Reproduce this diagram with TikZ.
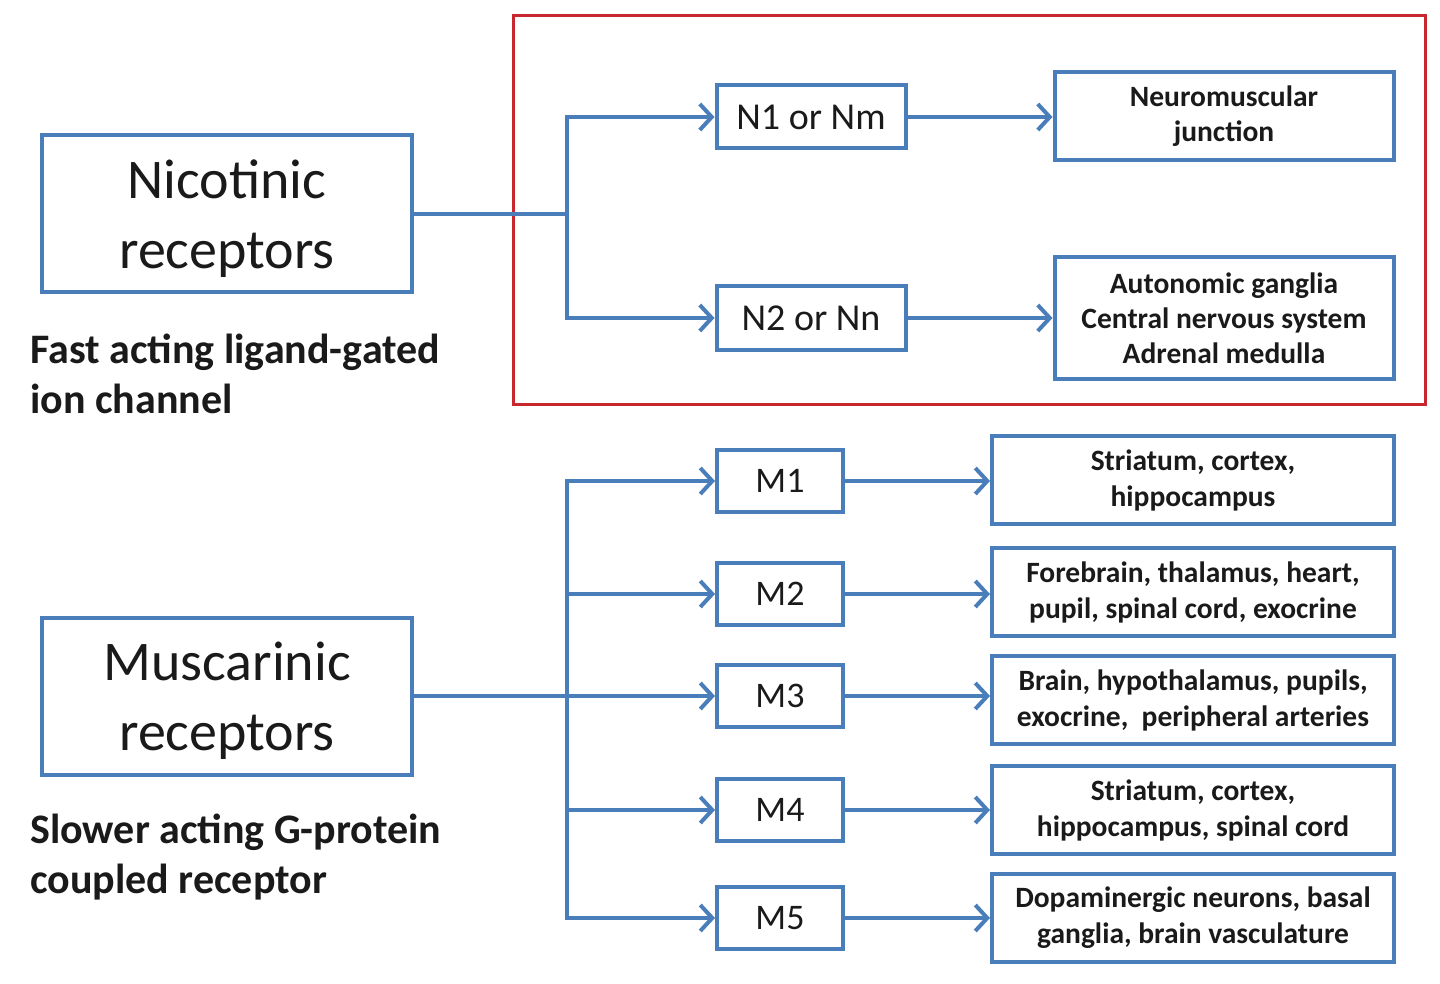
\documentclass[tikz,border=0pt]{standalone}
\usepackage{fontspec}
\setmainfont{Carlito}
\usetikzlibrary{arrows.meta,calc}
\definecolor{obox}{HTML}{4A7EBB}
\definecolor{rframe}{HTML}{C8282D}
\definecolor{ink}{HTML}{1A1A1A}
\begin{document}
\begin{tikzpicture}[x=1pt,y=-1pt,
  box/.style={draw=obox,line width=4pt,inner sep=0pt,align=center,text=ink},
  bigbox/.style={box,minimum width=370,minimum height=157,font=\fontsize{56}{70}\selectfont},
  nbox/.style={box,minimum width=189,minimum height=63,font=\fontsize{38}{40}\selectfont},
  mbox/.style={box,minimum width=126,minimum height=62,font=\fontsize{36}{40}\selectfont},
  sitebox/.style={box,minimum width=339,font=\bfseries\fontsize{29.5}{35}\selectfont},
  mite/.style={box,minimum width=402,minimum height=88,font=\bfseries\fontsize{29.5}{36}\selectfont},
  conn/.style={draw=obox,line width=4pt},
  arr/.style={conn,-{Straight Barb[length=12pt,width=26pt]}},
  lab/.style={font=\bfseries\fontsize{42}{50}\selectfont,align=left,anchor=west,inner sep=0pt,text=ink}
]
\useasboundingbox (0,0) rectangle (1440,984);

% red frame
\node[draw=rframe,line width=3pt,minimum width=912,minimum height=388,inner sep=0pt] (frame) at (969,210) {};

% main receptor boxes
\node[bigbox] (nic) at (227,214) {\strut Nicotinic\\receptors};
\node[bigbox] (mus) at (227,696) {\strut Muscarinic\\receptors};

\node[lab] (niclab) at (30,374) {Fast acting ligand-gated\\ion channel};
\node[lab] (muslab) at (30,857) {Slower acting G-protein\\coupled receptor};

% nicotinic subtypes
\node[nbox] (n1) at (811,117) {N1 or Nm};
\node[nbox] (n2) at (811,318) {N2 or Nn};
\node[sitebox,minimum height=88] (nmj) at (1224,116) {Neuromuscular\\junction};
\node[sitebox,minimum height=121] (auto) at (1224,318) {Autonomic ganglia\\Central nervous system\\Adrenal medulla};

% muscarinic subtypes
\node[mbox] (m1) at (780,481) {M1};
\node[mbox] (m2) at (780,594) {M2};
\node[mbox] (m3) at (780,696) {M3};
\node[mbox] (m4) at (780,810) {M4};
\node[mbox] (m5) at (780,918) {M5};

\node[mite] (s1) at (1193,480) {Striatum, cortex,\\hippocampus};
\node[mite] (s2) at (1193,592) {Forebrain, thalamus, heart,\\pupil, spinal cord, exocrine};
\node[mite] (s3) at (1193,700) {Brain, hypothalamus, pupils,\\exocrine,\ \ peripheral arteries};
\node[mite] (s4) at (1193,810) {Striatum, cortex,\\hippocampus, spinal cord};
\node[mite] (s5) at (1193,918) {Dopaminergic neurons, basal\\ganglia, brain vasculature};

% branch points
\coordinate (nb) at (567,214);
\coordinate (mb) at (567,696);

% nicotinic connectors
\draw[conn] (nic.east) -- (nb);
\draw[arr] (nb) |- (n1.west);
\draw[arr] (nb) |- (n2.west);
\draw[arr] (n1.east) -- (n1.east -| nmj.west);
\draw[arr] (n2.east) -- (n2.east -| auto.west);

% muscarinic connectors
\draw[conn] (mus.east) -- (mb);
\foreach \m in {m1,m2,m3,m4,m5}{
  \draw[arr] (mb) |- (\m.west);
}
\foreach \m/\s in {m1/s1,m2/s2,m3/s3,m4/s4,m5/s5}{
  \draw[arr] (\m.east) -- (\m.east -| \s.west);
}
\end{tikzpicture}
\end{document}
